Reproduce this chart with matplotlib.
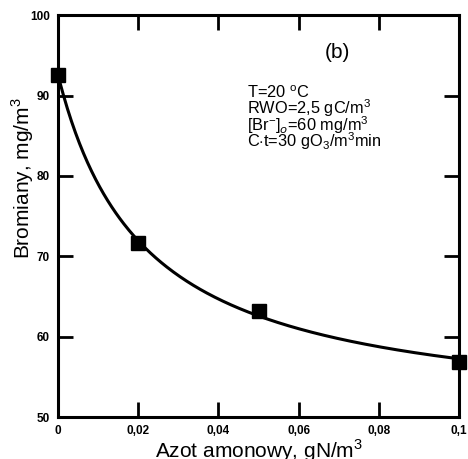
import numpy as np
import matplotlib
matplotlib.use("Agg")
import matplotlib.pyplot as plt

plt.rcParams['font.family'] = ['Liberation Sans', 'DejaVu Sans']
plt.rcParams['mathtext.fontset'] = 'custom'
plt.rcParams['mathtext.rm'] = 'Liberation Sans'

# Measured bromate concentration vs. ammonium nitrogen dose
azot = np.array([0.0, 0.02, 0.05, 0.1])
bromiany = np.array([92.6, 71.6, 63.2, 56.9])

x_ticks = [0, 0.02, 0.04, 0.06, 0.08, 0.1]
x_labels = ["0", "0,02", "0,04", "0,06", "0,08", "0,1"]
y_ticks = [50, 60, 70, 80, 90, 100]
y_labels = ["50", "60", "70", "80", "90", "100"]

conditions = ["T=20 $^{\\rm o}$C",
              "RWO=2,5 gC/m$^3$",
              "[Br$^{-}$]$_o$=60 mg/m$^3$",
              "C$\\cdot$t=30 gO$_3$/m$^3$min"]

# Fit y = a + b / (1 + c x) : grid over c, linear least squares for a, b
best = None
for c in np.linspace(1, 400, 4000):
    A = np.column_stack([np.ones_like(azot), 1.0 / (1.0 + c * azot)])
    coef, *_ = np.linalg.lstsq(A, bromiany, rcond=None)
    err = np.sum((A @ coef - bromiany) ** 2)
    if best is None or err < best[0]:
        best = (err, c, coef)
_, c_fit, (a_fit, b_fit) = best
xs = np.linspace(0, 0.1, 300)
ys = a_fit + b_fit / (1.0 + c_fit * xs)

fig = plt.figure(figsize=(4.68, 4.59), dpi=100)
ax = fig.add_axes([0.124, 0.0915, 0.857, 0.8755])

ax.plot(xs, ys, color='black', lw=2.2, zorder=2)
ax.plot(azot, bromiany, 's', color='black', ms=10, zorder=3, clip_on=False)

ax.set_xlim(0, 0.1)
ax.set_ylim(50, 100)
ax.set_xticks(x_ticks)
ax.set_xticklabels(x_labels)
ax.set_yticks(y_ticks)
ax.set_yticklabels(y_labels)
ax.tick_params(direction='in', length=11, width=2, top=True, right=True,
               labelsize=8.5, pad=6)
for lab in ax.get_xticklabels() + ax.get_yticklabels():
    lab.set_fontweight('bold')
for s in ax.spines.values():
    s.set_linewidth(2.2)

ax.set_xlabel("Azot amonowy, gN/m$^3$", fontsize=15, labelpad=0)
ax.set_ylabel("Bromiany, mg/m$^3$", fontsize=15)
ax.yaxis.set_label_coords(-0.055, 0.595)

ax.text(0.0696, 95.3, "(b)", fontsize=15, ha='center', va='center')
for line, yb in zip(conditions, [89.7, 87.7, 85.6, 83.6]):
    ax.text(0.047, yb, line, fontsize=11.8, ha='left', va='baseline')

fig.savefig("out.png", dpi=100)
